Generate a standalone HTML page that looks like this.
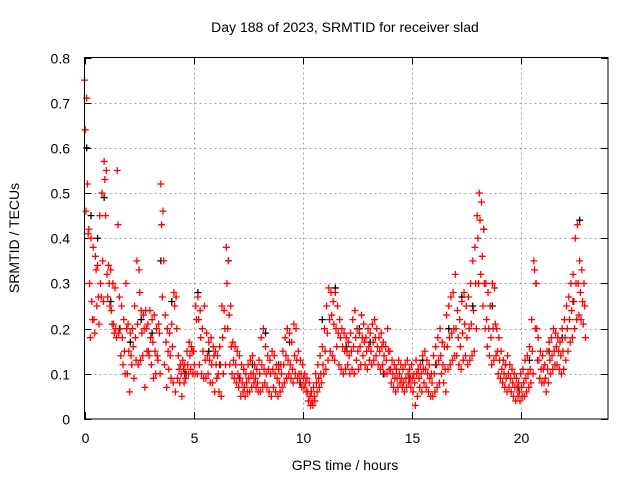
<!DOCTYPE html>
<html><head><meta charset="utf-8"><style>
html,body{margin:0;padding:0;background:#fff;}
svg{display:block;font-family:"Liberation Sans",Arial,sans-serif;}
</style></head><body>
<svg id="chart" width="640" height="480" viewBox="0 0 640 480">
<text x="345" y="32" font-size="14" text-anchor="middle">Day 188 of 2023, SRMTID for receiver slad</text>
<text x="345" y="470" font-size="14" text-anchor="middle">GPS time / hours</text>
<text transform="translate(19,238) rotate(-90)" font-size="14" text-anchor="middle">SRMTID / TECUs</text>
<g id="grid"></g><g id="ticks"></g><g id="pts"></g>
<rect x="84.5" y="57.5" width="523.5" height="361.5" fill="none" stroke="#000" stroke-width="1"/>
</svg>
<script>
const xTicks=[0,5,10,15,20];
const yTicks=[0,0.1,0.2,0.3,0.4,0.5,0.6,0.7,0.8];
const yTickLabels=["0","0.1","0.2","0.3","0.4","0.5","0.6","0.7","0.8"];
const hourStep=0.1;
const seriesA=[0.75,0.71,0.42,0.40,0.38,0.36,0.34,0.45,0.50,0.57,
0.55,0.34,0.33,0.30,0.29,0.55,0.27,0.25,0.22,0.30,
0.21,0.19,0.20,0.25,0.35,0.33,0.24,0.23,0.24,0.21,
0.24,0.22,0.23,0.20,0.21,0.52,0.46,0.23,0.20,0.19,
0.21,0.28,0.27,0.14,0.12,0.13,0.12,0.15,0.17,0.16,
0.15,0.25,0.27,0.24,0.20,0.25,0.19,0.17,0.18,0.16,
0.15,0.14,0.16,0.25,0.24,0.38,0.35,0.25,0.17,0.16,
0.15,0.14,0.12,0.11,0.10,0.12,0.13,0.14,0.12,0.11,
0.13,0.18,0.20,0.16,0.14,0.13,0.15,0.14,0.12,0.11,
0.12,0.15,0.18,0.20,0.19,0.17,0.21,0.20,0.15,0.13,
0.12,0.10,0.09,0.08,0.06,0.07,0.10,0.12,0.14,0.16,
0.20,0.25,0.29,0.28,0.26,0.28,0.25,0.22,0.20,0.19,
0.18,0.17,0.19,0.22,0.24,0.20,0.19,0.23,0.21,0.18,
0.20,0.19,0.21,0.22,0.20,0.18,0.19,0.17,0.16,0.20,
0.15,0.13,0.12,0.11,0.13,0.12,0.11,0.12,0.13,0.11,
0.12,0.10,0.13,0.11,0.12,0.14,0.15,0.13,0.12,0.10,
0.14,0.16,0.18,0.20,0.17,0.16,0.23,0.25,0.27,0.28,
0.32,0.24,0.22,0.26,0.28,0.25,0.27,0.30,0.35,0.38,
0.45,0.50,0.48,0.42,0.30,0.28,0.25,0.30,0.29,0.20,
0.18,0.15,0.13,0.12,0.14,0.12,0.11,0.10,0.09,0.08,
0.10,0.11,0.13,0.14,0.16,0.22,0.35,0.30,0.18,0.15,
0.14,0.12,0.15,0.17,0.18,0.20,0.19,0.18,0.17,0.20,
0.22,0.25,0.27,0.30,0.32,0.40,0.43,0.35,0.33,0.30];
const seriesB=[0.64,0.52,0.30,0.26,0.22,0.33,0.27,0.30,0.35,0.53,
0.32,0.30,0.24,0.21,0.20,0.43,0.20,0.18,0.15,0.20,
0.15,0.14,0.16,0.18,0.21,0.28,0.19,0.20,0.20,0.15,
0.18,0.17,0.15,0.14,0.19,0.43,0.35,0.17,0.15,0.14,
0.16,0.25,0.20,0.11,0.10,0.11,0.09,0.12,0.14,0.15,
0.12,0.22,0.22,0.18,0.15,0.13,0.14,0.13,0.12,0.14,
0.12,0.10,0.12,0.18,0.20,0.30,0.23,0.16,0.13,0.12,
0.10,0.09,0.08,0.07,0.08,0.09,0.10,0.10,0.09,0.08,
0.10,0.12,0.11,0.10,0.11,0.10,0.11,0.10,0.09,0.08,
0.10,0.12,0.14,0.13,0.12,0.11,0.14,0.13,0.10,0.10,
0.09,0.08,0.06,0.05,0.04,0.05,0.08,0.09,0.10,0.12,
0.15,0.19,0.22,0.23,0.21,0.20,0.19,0.18,0.16,0.15,
0.15,0.14,0.15,0.16,0.18,0.15,0.16,0.18,0.17,0.15,
0.16,0.15,0.17,0.18,0.16,0.15,0.16,0.14,0.13,0.15,
0.11,0.10,0.09,0.09,0.10,0.09,0.08,0.09,0.10,0.09,
0.09,0.08,0.10,0.09,0.10,0.11,0.11,0.10,0.09,0.08,
0.10,0.12,0.13,0.14,0.12,0.11,0.16,0.18,0.19,0.20,
0.20,0.18,0.16,0.19,0.21,0.18,0.20,0.21,0.24,0.30,
0.40,0.44,0.36,0.30,0.22,0.20,0.18,0.20,0.21,0.15,
0.13,0.11,0.10,0.09,0.10,0.09,0.08,0.07,0.07,0.06,
0.07,0.08,0.09,0.10,0.11,0.15,0.33,0.20,0.13,0.11,
0.11,0.09,0.11,0.13,0.14,0.15,0.16,0.15,0.14,0.15,
0.18,0.20,0.22,0.24,0.26,0.30,0.30,0.28,0.26,0.25];
const seriesC=[0.46,0.41,0.18,0.22,0.19,0.25,0.21,0.27,0.26,0.45,
0.27,0.25,0.21,0.19,0.18,0.19,0.14,0.12,0.10,0.10,
0.06,0.12,0.09,0.13,0.12,0.13,0.14,0.07,0.15,0.14,
0.12,0.09,0.10,0.13,0.10,0.27,0.12,0.07,0.11,0.09,
0.08,0.06,0.09,0.08,0.05,0.08,0.10,0.10,0.11,0.10,
0.10,0.10,0.12,0.10,0.09,0.09,0.10,0.08,0.08,0.06,
0.09,0.06,0.05,0.10,0.12,0.20,0.12,0.10,0.09,0.08,
0.07,0.05,0.06,0.05,0.06,0.06,0.07,0.08,0.07,0.06,
0.06,0.07,0.08,0.07,0.06,0.05,0.07,0.06,0.05,0.06,
0.07,0.08,0.09,0.10,0.09,0.08,0.10,0.09,0.08,0.07,
0.07,0.06,0.04,0.03,0.03,0.04,0.06,0.07,0.08,0.10,
0.11,0.13,0.15,0.14,0.13,0.16,0.12,0.11,0.10,0.11,
0.12,0.10,0.11,0.10,0.13,0.11,0.12,0.14,0.12,0.11,
0.13,0.12,0.13,0.14,0.12,0.11,0.12,0.10,0.10,0.11,
0.08,0.07,0.06,0.07,0.08,0.07,0.06,0.07,0.08,0.07,
0.06,0.03,0.05,0.07,0.06,0.08,0.07,0.06,0.05,0.05,
0.06,0.07,0.08,0.10,0.08,0.06,0.11,0.12,0.13,0.14,
0.14,0.12,0.11,0.13,0.14,0.12,0.13,0.14,0.15,0.20,
0.30,0.32,0.25,0.20,0.16,0.14,0.12,0.13,0.14,0.10,
0.09,0.08,0.07,0.06,0.07,0.06,0.05,0.04,0.05,0.04,
0.05,0.05,0.06,0.07,0.08,0.10,0.20,0.13,0.09,0.08,
0.08,0.06,0.08,0.10,0.11,0.12,0.12,0.11,0.10,0.11,
0.13,0.15,0.17,0.18,0.20,0.22,0.23,0.22,0.21,0.18];
const blackHours=[0.1,0.3,0.6,0.9,1.2,1.6,2.1,2.6,3.1,3.5,4.0,4.6,5.2,5.7,6.2,6.6,7.1,7.7,8.3,8.9,9.4,9.9,10.4,10.9,11.5,12.0,12.6,13.1,13.7,14.3,14.9,15.5,16.1,16.7,17.3,17.8,18.3,18.7,19.3,19.9,20.4,20.7,21.3,21.9,22.4,22.7];
const blackValues=[0.60,0.45,0.40,0.49,0.26,0.20,0.17,0.22,0.19,0.35,0.26,0.10,0.28,0.15,0.12,0.35,0.09,0.12,0.19,0.12,0.17,0.08,0.06,0.22,0.29,0.16,0.20,0.17,0.10,0.11,0.09,0.13,0.12,0.20,0.27,0.25,0.42,0.25,0.12,0.07,0.13,0.30,0.15,0.18,0.26,0.44];

const NS='http://www.w3.org/2000/svg';
const X0=84.5,X1=608,Y0=419,Y1=57.5;
function xs(h){return X0+h/24*(X1-X0);}
function ys(v){return Y0-v/0.8*(Y0-Y1);}
const grid=document.getElementById('grid'),ticks=document.getElementById('ticks'),pts=document.getElementById('pts');
function mk(tag,attrs,parent){const e=document.createElementNS(NS,tag);for(const k in attrs)e.setAttribute(k,attrs[k]);parent.appendChild(e);return e;}
yTicks.forEach((v,i)=>{
  const y=Math.round(ys(v))+0.5;
  if(i>0&&i<yTicks.length-1){const g=mk('line',{x1:X0,x2:X1,y1:y,y2:y,stroke:'#a0a0a0','stroke-dasharray':'2,3'},grid);
  
  }
  mk('line',{x1:X0,x2:X0+7,y1:y,y2:y,stroke:'#000'},ticks);
  mk('line',{x1:X1-7,x2:X1,y1:y,y2:y,stroke:'#000'},ticks);
  const t=mk('text',{x:70,y:y+5,'font-size':14,'text-anchor':'end'},ticks);
  t.textContent=yTickLabels[i];
  
  
});
xTicks.forEach(h=>{
  const x=Math.round(xs(h))+0.5;
  if(h>0){const g=mk('line',{x1:x,x2:x,y1:Y1,y2:Y0,stroke:'#a0a0a0','stroke-dasharray':'2,3'},grid);
  
  }
  mk('line',{x1:x,x2:x,y1:Y0,y2:Y0-7,stroke:'#000'},ticks);
  mk('line',{x1:x,x2:x,y1:Y1,y2:Y1+7,stroke:'#000'},ticks);
  const t=mk('text',{x:x,y:443,'font-size':14,'text-anchor':'middle'},ticks);
  t.textContent=String(h);
  
  
});
function plus(h,v,color){
  const x=xs(h),y=ys(v);
  const p=mk('path',{d:`M${x-3.5} ${y}H${x+3.5}M${x} ${y-3.5}V${y+3.5}`,stroke:color,'stroke-width':1.3,fill:'none'},pts);
  
  
}
blackHours.forEach((h,i)=>plus(h,blackValues[i],'#000'));
[seriesA,seriesB,seriesC].forEach((s,k)=>{
  s.forEach((v,i)=>plus(i*hourStep+k*0.033,v,'#f00'));
});
</script>
</body></html>
